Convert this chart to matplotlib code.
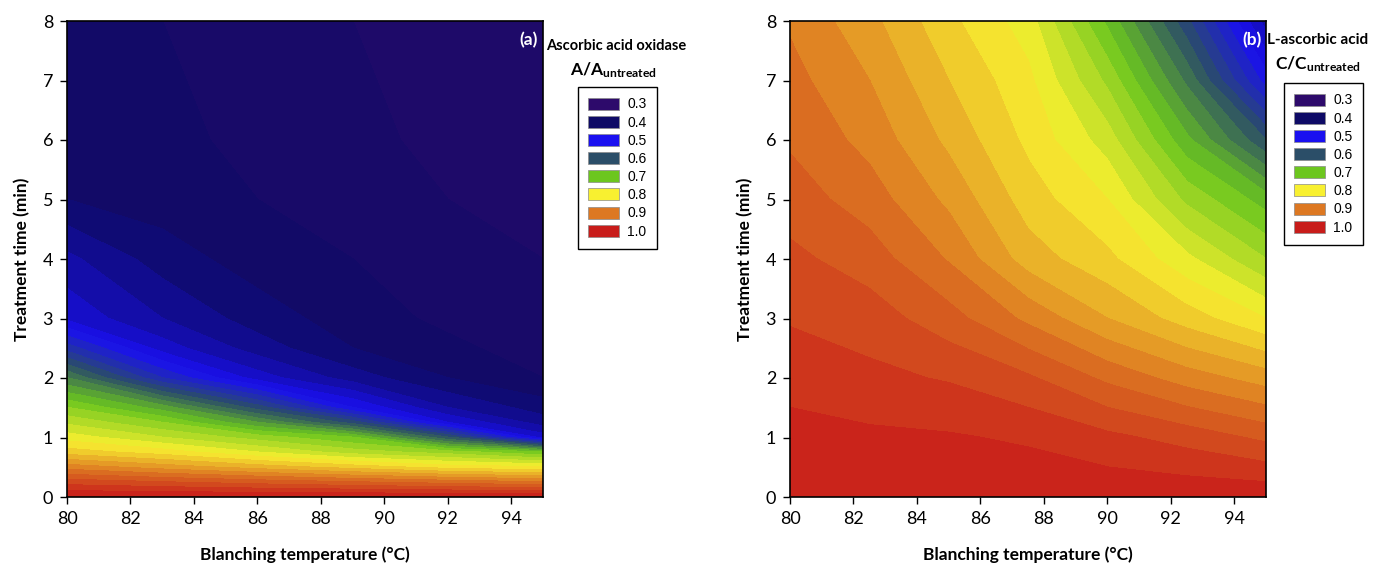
import numpy as np
import matplotlib
matplotlib.use('Agg')
import matplotlib.pyplot as plt
from matplotlib.colors import LinearSegmentedColormap
from matplotlib.patches import Patch

plt.rcParams['font.family'] = ['Lato', 'DejaVu Sans']
plt.rcParams['mathtext.fontset'] = 'custom'
plt.rcParams['mathtext.rm'] = 'Lato'
plt.rcParams['mathtext.bf'] = 'Lato:bold'

# (a) ascorbic acid oxidase, A/A_untreated
temp_a = [80, 83, 86, 89, 92, 95]
time_a = [0, 0.25, 0.5, 0.75, 1.0, 1.25, 1.5, 2.0, 2.5, 3.0, 4.0, 5.0, 6.0, 8.0]
aao_ratio = [
    [1.0, 1.0, 1.0, 1.0, 1.0, 1.0],
    [0.95, 0.94, 0.93, 0.92, 0.91, 0.90],
    [0.89, 0.87, 0.85, 0.83, 0.81, 0.80],
    [0.83, 0.81, 0.78, 0.75, 0.73, 0.70],
    [0.79, 0.76, 0.73, 0.70, 0.60, 0.47],
    [0.755, 0.72, 0.66, 0.59, 0.48, 0.43],
    [0.72, 0.67, 0.59, 0.50, 0.44, 0.41],
    [0.64, 0.54, 0.47, 0.43, 0.40, 0.38],
    [0.55, 0.47, 0.43, 0.40, 0.385, 0.37],
    [0.475, 0.44, 0.41, 0.39, 0.375, 0.365],
    [0.445, 0.41, 0.39, 0.38, 0.365, 0.36],
    [0.40, 0.39, 0.38, 0.37, 0.36, 0.355],
    [0.39, 0.385, 0.375, 0.365, 0.355, 0.35],
    [0.385, 0.38, 0.37, 0.36, 0.35, 0.345],
]

# (b) L-ascorbic acid, C/C_untreated
temp_b = [80, 82.5, 85, 87.5, 90, 92.5, 95]
time_b = [0, 1, 2, 3, 4, 5, 6, 7, 8]
laa_ratio = [
    [0.995, 0.995, 0.995, 0.995, 0.995, 0.995, 0.995],
    [0.988, 0.984, 0.982, 0.977, 0.965, 0.952, 0.935],
    [0.972, 0.965, 0.958, 0.943, 0.915, 0.89, 0.87],
    [0.958, 0.95, 0.928, 0.895, 0.86, 0.83, 0.80],
    [0.945, 0.93, 0.898, 0.85, 0.825, 0.785, 0.74],
    [0.93, 0.91, 0.875, 0.83, 0.80, 0.735, 0.69],
    [0.917, 0.893, 0.855, 0.815, 0.77, 0.685, 0.60],
    [0.907, 0.88, 0.84, 0.805, 0.735, 0.635, 0.51],
    [0.897, 0.866, 0.825, 0.79, 0.695, 0.585, 0.45],
]

legend_values = [0.3, 0.4, 0.5, 0.6, 0.7, 0.8, 0.9, 1.0]
legend_colors = ['#2d0a6b', '#0e0a66', '#1a10f0', '#2b4e68',
                 '#6cc61e', '#f8f030', '#dd7822', '#c81c1a']

cmap = LinearSegmentedColormap.from_list(
    'sigma', [((v - 0.3) / 0.7, c) for v, c in zip(legend_values, legend_colors)])
levels = np.linspace(0.3, 1.0, 36)

fig = plt.figure(figsize=(13.76, 5.68), dpi=100)
ax_a = fig.add_axes([67 / 1376, 71 / 568, 476 / 1376, 476 / 568])
ax_b = fig.add_axes([790 / 1376, 71 / 568, 476 / 1376, 476 / 568])


def draw_panel(ax, temps, times, ratio, tag):
    cs = ax.contourf(temps, times, np.array(ratio), levels=levels, cmap=cmap,
                     vmin=0.3, vmax=1.0)
    # hide the hairline seams between filled bands
    cs.set_edgecolor('face')
    cs.set_linewidth(0.6)
    ax.set_xlim(80, 95)
    ax.set_ylim(0, 8)
    ax.set_xticks(range(80, 95, 2))
    ax.set_yticks(range(0, 9))
    ax.tick_params(direction='out', length=5, width=1, labelsize=13, pad=5)
    for s in ax.spines.values():
        s.set_linewidth(1.2)
        s.set_zorder(5)
    ax.set_xlabel('Blanching temperature (°C)', fontsize=12.5, fontweight='bold', labelpad=14)
    ax.set_ylabel('Treatment time (min)', fontsize=12.5, fontweight='bold', labelpad=9)
    ax.text(0.99, 0.978, tag, transform=ax.transAxes, ha='right', va='top',
            color='white', fontweight='bold', fontsize=12.5, zorder=6)


draw_panel(ax_a, temp_a, time_a, aao_ratio, '(a)')
draw_panel(ax_b, temp_b, time_b, laa_ratio, '(b)')

handles = [Patch(facecolor=c, edgecolor='#8a8a8a', linewidth=0.5) for c in legend_colors]
labels = [f'{v:.1f}' for v in legend_values]

for x0, y0 in [(578, 87), (1284, 83)]:
    leg = fig.legend(handles, labels, loc='upper left',
                     bbox_to_anchor=(x0 / 1376, 1 - y0 / 568), borderaxespad=0,
                     frameon=True, fancybox=False, edgecolor='black', framealpha=1,
                     prop={'family': 'Liberation Sans', 'size': 10},
                     handlelength=2.2, handleheight=0.95, labelspacing=0.3,
                     borderpad=0.75, handletextpad=0.6)
    leg.get_frame().set_linewidth(1.0)

fig.text(616 / 1376, 1 - 46 / 568, 'Ascorbic acid oxidase', ha='center', va='center',
         fontweight='bold', fontsize=10.5)
fig.text(614 / 1376, 1 - 70 / 568, r'$\mathbf{A/A_{untreated}}$', ha='center', va='center',
         fontsize=12.5)
fig.text(1318 / 1376, 1 - 40 / 568, 'L-ascorbic acid', ha='center', va='center',
         fontweight='bold', fontsize=11)
fig.text(1318 / 1376, 1 - 64 / 568, r'$\mathbf{C/C_{untreated}}$', ha='center', va='center',
         fontsize=12.5)

fig.savefig('out.png', dpi=100)
